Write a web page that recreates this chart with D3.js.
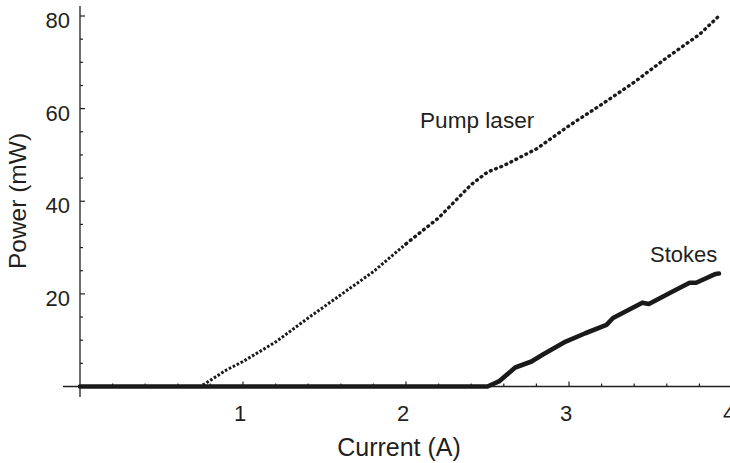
<!DOCTYPE html>
<html>
<head>
<meta charset="utf-8">
<script src="https://cdn.jsdelivr.net/npm/d3@7/dist/d3.min.js"></script>
<style>
  body { margin: 0; background: #fff; }
  svg { display: block; }
  text { font-family: "Liberation Sans", Arial, sans-serif; fill: #231f20; }
</style>
</head>
<body>
<div id="graph"></div>
<script>
var width = 730, height = 463;

// pump laser, current (A) vs power (mW)
var pumpCurrent = [0, 0.74, 0.9, 1.0, 1.2, 1.4, 1.6, 1.8, 2.0, 2.2, 2.4, 2.5, 2.6, 2.8, 3.0, 3.2, 3.4, 3.6, 3.8, 3.92];
var pumpPower   = [0, 0, 3.6, 5.4, 9.6, 14.8, 19.8, 24.8, 30.8, 36.4, 43.6, 46.3, 47.7, 51.3, 56.3, 60.9, 65.7, 71.0, 76.0, 80.0];

// stokes
var stokesCurrent = [0, 2.50, 2.57, 2.62, 2.67, 2.77, 2.84, 2.98, 3.10, 3.23, 3.27, 3.45, 3.49, 3.63, 3.74, 3.78, 3.90, 3.92];
var stokesPower   = [0, 0, 1.1, 2.6, 4.1, 5.4, 6.9, 9.7, 11.5, 13.3, 14.8, 18.1, 17.8, 20.4, 22.4, 22.4, 24.3, 24.4];

var xMajor = [1, 2, 3, 4];
var yMajor = [20, 40, 60, 80];

var svg = d3.select("#graph").append("svg")
    .attr("width", width).attr("height", height);

var x = d3.scaleLinear().domain([0, 4]).range([80, 732]);
var y = d3.scaleLinear().domain([0, 80]).range([386.5, 16]);

var ink = "#231f20";

var pump = pumpCurrent.map(function(c, i) { return [c, pumpPower[i]]; });
var stokes = stokesCurrent.map(function(c, i) { return [c, stokesPower[i]]; });

var line = d3.line()
    .x(function(d) { return x(d[0]); })
    .y(function(d) { return y(d[1]); });

// axes
var xAxis = svg.append("g").attr("transform", "translate(0," + y(0) + ")");
xAxis.append("line")
    .attr("x1", 63).attr("x2", width + 10)
    .attr("stroke", ink).attr("stroke-width", 1.3);
xAxis.selectAll(".minor")
  .data(d3.range(0.2, 4.5, 0.2))
    .enter().append("line")
    .attr("x1", function(d) { return x(d); })
    .attr("x2", function(d) { return x(d); })
    .attr("y1", 0)
    .attr("y2", function(d) { return Math.abs(d - Math.round(d)) < 0.01 ? -5 : -3; })
    .attr("stroke", ink).attr("stroke-width", 1.2);
xAxis.selectAll("text")
  .data(xMajor)
    .enter().append("text")
    .attr("x", function(d) { return x(d) - 3; })
    .attr("y", 34.5)
    .attr("text-anchor", "middle")
    .attr("font-size", "22px")
    .text(function(d) { return d; });

var yAxis = svg.append("g").attr("transform", "translate(" + x(0) + ",0)");
yAxis.append("line")
    .attr("y1", 6).attr("y2", 397)
    .attr("stroke", ink).attr("stroke-width", 1.3);
yAxis.selectAll(".minor")
  .data(d3.range(5, 81, 5))
    .enter().append("line")
    .attr("y1", function(d) { return y(d); })
    .attr("y2", function(d) { return y(d); })
    .attr("x1", 0)
    .attr("x2", function(d) { return d % 20 === 0 ? 5 : 3; })
    .attr("stroke", ink).attr("stroke-width", 1.2);
yAxis.selectAll("text")
  .data(yMajor)
    .enter().append("text")
    .attr("x", -10)
    .attr("y", function(d) { return y(d) + 12; })
    .attr("text-anchor", "end")
    .attr("font-size", "22px")
    .text(function(d) { return d; });

// axis titles
svg.append("text")
    .attr("x", 399).attr("y", 456)
    .attr("text-anchor", "middle")
    .attr("font-size", "25px")
    .text("Current (A)");
svg.append("text")
    .attr("transform", "translate(26,201) rotate(-90)")
    .attr("text-anchor", "middle")
    .attr("font-size", "24.5px")
    .text("Power (mW)");

// stokes, thick solid
svg.append("path")
    .datum(stokes)
    .attr("d", line)
    .attr("fill", "none")
    .attr("stroke", "#1a1a1a")
    .attr("stroke-width", 4.6)
    .attr("stroke-linejoin", "round")
    .attr("stroke-linecap", "round");

// pump, dotted (denser on the lower part)
svg.append("path")
    .datum(pump.filter(function(d) { return d[0] <= 2.0; }))
    .attr("d", line)
    .attr("fill", "none")
    .attr("stroke", "#1a1a1a")
    .attr("stroke-width", 3)
    .attr("stroke-dasharray", "2.6,1.8");
svg.append("path")
    .datum(pump.filter(function(d) { return d[0] >= 2.0; }))
    .attr("d", line)
    .attr("fill", "none")
    .attr("stroke", "#1a1a1a")
    .attr("stroke-width", 3.4)
    .attr("stroke-linecap", "round")
    .attr("stroke-dasharray", "0.8,4.8");

// labels
svg.append("text")
    .attr("x", 420).attr("y", 128)
    .attr("font-size", "22.6px")
    .text("Pump laser");
svg.append("text")
    .attr("x", 650).attr("y", 262)
    .attr("font-size", "22px")
    .text("Stokes");
</script>
</body>
</html>
